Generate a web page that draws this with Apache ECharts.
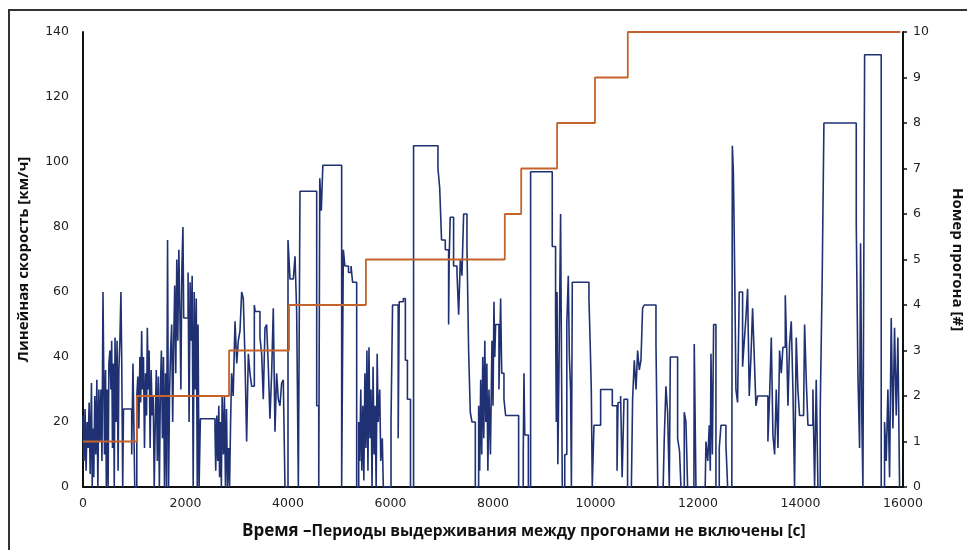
<!DOCTYPE html>
<html>
<head>
<meta charset="utf-8">
<script src="https://cdn.jsdelivr.net/npm/echarts@6/dist/echarts.min.js"></script>
<style>
  html, body { margin: 0; background: #fff; }
  #chart { width: 967px; height: 550px; }
</style>
</head>
<body>
<div id="chart"></div>
<script>
// speed trace, time in s, value holds until next time
const speedTime = [
  // run 1
  0, 20, 40, 60, 80, 100, 120, 140, 165, 180, 195, 210, 230, 250, 270, 290, 310, 330, 350, 370,
  390, 405, 420, 440, 455, 470, 490, 505, 525, 545, 560, 575, 595, 610, 625, 645, 665, 685, 700, 720,
  740, 755, 775, 790, 950, 975, 1010,
  // run 2
  1050, 1070, 1090, 1110, 1125, 1145, 1160, 1180, 1200, 1220, 1240, 1255, 1275, 1290, 1310, 1330, 1350, 1370, 1390, 1410,
  1430, 1450, 1470, 1490, 1510, 1530, 1550, 1570, 1590, 1610, 1630, 1650, 1670, 1690, 1710, 1730, 1750, 1770, 1790, 1810,
  1830, 1850, 1870, 1890, 1910, 1930, 1950, 1965, 2050, 2070, 2090, 2110, 2130, 2150, 2170, 2190, 2210, 2230, 2245, 2265,
  2290, 2575, 2590, 2610, 2630, 2650, 2665, 2685, 2700, 2715, 2740, 2760, 2780, 2800, 2820, 2840, 2860,
  // run 3
  2880, 2900, 2930, 2966, 3000, 3030, 3063, 3096, 3128, 3160, 3193, 3226, 3258, 3291, 3343, 3360, 3453, 3486, 3518, 3551,
  3583, 3616, 3648, 3681, 3713, 3746, 3778, 3811, 3843, 3876, 3908, 3941,
  // run 4
  4000, 4039, 4104, 4137, 4169, 4202, 4234, 4560, 4600, 4620, 4650, 4680, 5047, 5080, 5110, 5180, 5230, 5260, 5340, 5380,
  5400, 5420, 5440, 5460, 5480, 5500,
  // run 5
  5520, 5540, 5560, 5580, 5600, 5620, 5640, 5660, 5680, 5700, 5720, 5740, 5760, 5790, 5810, 5840, 5860, 6010, 6040, 6150,
  6170, 6250, 6290, 6330, 6390, 6450, 6926, 6960, 6996, 7069, 7134, 7145, 7165, 7231, 7297, 7330, 7362, 7394, 7427, 7492,
  7524, 7557, 7590, 7655, 7720, 7740, 7760, 7780, 7800, 7820, 7840, 7860, 7880, 7900, 7921, 7950, 7980, 8000, 8019, 8035,
  8051, 8116, 8149, 8170, 8214,
  // runs 6, 7
  8246, 8500, 8590, 8604, 8620, 8690, 8734, 9156, 9221, 9235, 9250, 9265, 9290, 9319, 9340, 9352,
  // run 8
  9400, 9440, 9469, 9490, 9514, 9530, 9547, 9872, 9895, 9918, 9937, 9970,
  // run 9
  10100, 10328, 10420, 10440, 10490, 10520, 10556, 10626,
  // run 10
  10700, 10724, 10757, 10790, 10822, 10854, 10887, 10919, 10952, 11180, 11215, 11320, 11342, 11374, 11407, 11440, 11460, 11602, 11640, 11667,
  11732, 11765, 11797, 11920, 11927, 11960, 12140, 12155, 12190, 12220, 12240, 12253, 12280, 12305, 12350, 12415, 12448, 12545, 12578, 12660,
  12670, 12690, 12705, 12720, 12740, 12772, 12805, 12870, 12903, 12935, 12968, 13000, 13033, 13065, 13098, 13130, 13163, 13364, 13397, 13430,
  13462, 13495, 13527, 13560, 13592, 13625, 13657, 13703, 13735, 13755, 13787, 13820, 13852, 13884, 13905, 13917, 13949, 13982, 14060, 14080,
  14112, 14145, 14242, 14275, 14307, 14340, 14385, 14424, 14457, 15088, 15120, 15153, 15172, 15198, 15218, 15251, 15575, 15640, 15673, 15705,
  15738, 15770, 15803, 15835, 15868, 15900, 15933, 15945
];
const speedKmh = [
  // run 1
  22, 8, 24, 5, 20, 12, 26, 4, 32, 0, 18, 3, 28, 10, 33, 0, 30, 14, 30, 8,
  60, 35, 10, 36, 0, 30, 0, 38, 42, 30, 45, 12, 38, 0, 46, 20, 45, 5, 36, 45,
  60, 40, 0, 24, 10, 38, 0,
  // run 2
  28, 34, 18, 40, 26, 48, 30, 40, 12, 35, 22, 49, 30, 42, 12, 36, 22, 28, 0, 20,
  36, 8, 34, 0, 30, 42, 15, 40, 0, 35, 0, 76, 0, 30, 42, 50, 20, 45, 62, 35,
  70, 45, 73, 55, 30, 68, 80, 52, 66, 20, 63, 45, 65, 0, 60, 30, 58, 0, 50, 0,
  21, 18, 5, 22, 8, 25, 3, 20, 0, 28, 10, 28, 0, 24, 0, 12, 0,
  // run 3
  20, 35, 28, 51, 38, 45, 48, 60, 58, 40, 14, 41, 35, 31, 56, 54, 46, 41, 27, 49,
  50, 37, 21, 35, 55, 17, 35, 27, 25, 32, 33, 0,
  // run 4
  76, 64, 64, 71, 54, 0, 91, 25, 0, 95, 85, 99, 0, 73, 68, 66, 68, 63, 0, 20,
  8, 30, 5, 25, 2, 35,
  // run 5
  12, 42, 5, 43, 15, 30, 0, 37, 10, 25, 0, 41, 20, 30, 8, 15, 0, 20, 56, 15,
  57, 58, 39, 27, 0, 105, 98, 92, 76, 73, 50, 70, 83, 68, 66, 53, 70, 65, 84, 74,
  42, 23, 20, 0, 25, 5, 33, 10, 40, 15, 45, 20, 38, 5, 30, 10, 45, 25, 57, 40,
  50, 30, 58, 35, 27,
  // runs 6, 7
  22, 0, 10, 35, 16, 0, 97, 74, 53, 20, 60, 7, 40, 84, 30, 0,
  // run 8
  10, 50, 65, 40, 30, 0, 63, 58, 45, 30, 0, 19,
  // run 9
  30, 25, 5, 26, 28, 3, 27, 0,
  // run 10
  0, 27, 39, 30, 42, 36, 39, 55, 56, 44, 0, 0, 15, 31, 23, 0, 40, 15, 11, 0,
  23, 20, 0, 0, 44, 0, 0, 14, 8, 19, 5, 41, 10, 50, 0, 12, 19, 13, 0, 0,
  105, 97, 80, 60, 30, 26, 60, 37, 45, 52, 61, 28, 40, 55, 40, 25, 28, 14, 28, 46,
  16, 10, 30, 12, 42, 35, 43, 59, 40, 25, 44, 51, 30, 0, 0, 46, 30, 22, 22, 50,
  33, 19, 30, 0, 33, 0, 24, 65, 112, 81, 35, 12, 75, 20, 0, 133, 0, 20, 8, 30,
  3, 52, 18, 49, 22, 46, 0, 0
];

// run number step line
const runTime = [0, 1050, 2850, 4020, 5520, 8230, 8550, 9250, 9990, 10630, 15950];
const runNumber = [1, 2, 3, 4, 5, 6, 7, 8, 9, 10, 10];

const chart = echarts.init(document.getElementById("chart"));

const labelStyle = { color: "#222", fontFamily: "DejaVu Sans", fontSize: 12.5 };
const nameStyle = { color: "#111", fontFamily: "Open Sans", fontWeight: "bold", fontSize: 15 };

chart.setOption({
  animation: false,
  grid: { left: 83, right: 64, top: 32, bottom: 63, outerBoundsMode: "none" },
  xAxis: {
    type: "value",
    min: 0,
    max: 16000,
    interval: 2000,
    axisLine: { lineStyle: { color: "#111", width: 2 } },
    axisTick: { show: false },
    axisLabel: { ...labelStyle, margin: 10, formatter: (v) => String(v) },
    splitLine: { show: false },
  },
  yAxis: [
    {
      type: "value",
      min: 0,
      max: 140,
      interval: 20,
      name: "Линейная скорость [км/ч]",
      nameLocation: "middle",
      nameGap: 52,
      nameTextStyle: nameStyle,
      axisLine: { show: true, lineStyle: { color: "#111", width: 2 } },
      axisTick: { show: false },
      axisLabel: { ...labelStyle, margin: 14 },
      splitLine: { show: false },
    },
    {
      type: "value",
      min: 0,
      max: 10,
      interval: 1,
      position: "right",
      name: "Номер прогона [#]",
      nameLocation: "middle",
      nameRotate: -90,
      nameGap: 47,
      nameTextStyle: nameStyle,
      axisLine: { show: true, lineStyle: { color: "#111", width: 2 } },
      axisTick: { show: true, inside: false, length: 4, lineStyle: { color: "#111", width: 1.5 } },
      axisLabel: { ...labelStyle, margin: 10 },
      splitLine: { show: false },
    },
  ],
  series: [
    {
      name: "Скорость",
      type: "line",
      yAxisIndex: 0,
      step: "end",
      showSymbol: false,
      lineStyle: { color: "#1f3172", width: 1.6 },
      data: speedTime.map((t, i) => [t, speedKmh[i]]),
    },
    {
      name: "Прогон",
      type: "line",
      yAxisIndex: 1,
      step: "end",
      showSymbol: false,
      lineStyle: { color: "#c6632b", width: 1.8 },
      data: runTime.map((t, i) => [t, runNumber[i]]),
    },
  ],
  graphic: [
    {
      type: "rect",
      shape: { x: 9, y: 10, width: 1000, height: 600 },
      style: { fill: "none", stroke: "#333", lineWidth: 2 },
      silent: true,
    },
    {
      type: "text",
      left: 242,
      top: 523,
      style: {
        text: "{a|Время –}{b|Периоды выдерживания между прогонами не включены [с]}",
        rich: {
          a: { fontFamily: "Open Sans", fontWeight: "bold", fontSize: 17, fill: "#111" },
          b: { fontFamily: "Open Sans", fontWeight: "bold", fontSize: 15.5, fill: "#111" },
        },
      },
    },
  ],
});
</script>
</body>
</html>
